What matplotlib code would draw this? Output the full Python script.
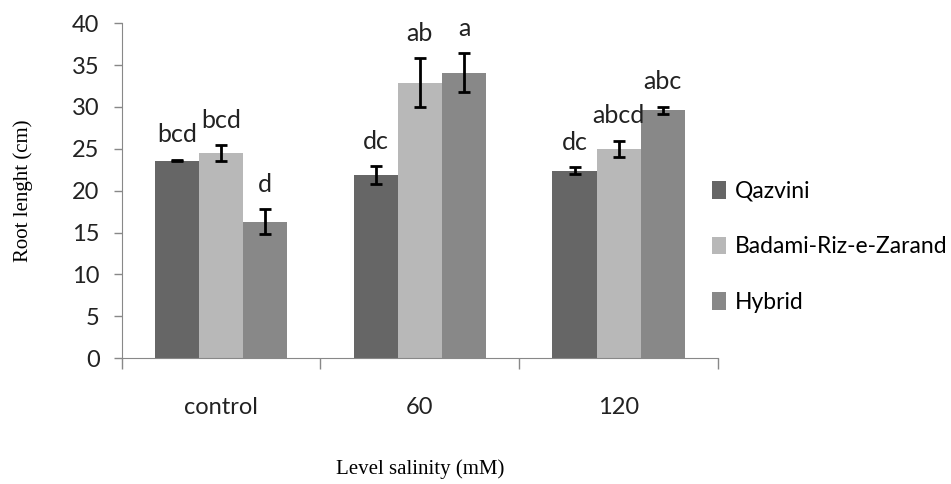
import numpy as np
import matplotlib.pyplot as plt

# data
levels = ['control', '60', '120']
cultivars = ['Qazvini', 'Badami-Riz-e-Zarand', 'Hybrid']
qazvini = [23.6, 21.9, 22.4]
badami = [24.5, 32.9, 25.0]
hybrid = [16.3, 34.1, 29.6]
qazvini_err = [0.1, 1.05, 0.4]
badami_err = [0.9, 2.95, 0.95]
hybrid_err = [1.5, 2.3, 0.45]
qazvini_lab = ['bcd', 'dc', 'dc']
badami_lab = ['bcd', 'ab', 'abcd']
hybrid_lab = ['d', 'a', 'abc']

colors = ['#666666', '#b8b8b8', '#888888']
sans = ['Lato', 'DejaVu Sans']
serif = ['Liberation Serif', 'DejaVu Serif']

fig = plt.figure(figsize=(9.51, 4.84), dpi=100)
ax = fig.add_axes([0.128, 0.260, 0.627, 0.692])

x = np.arange(len(levels))
w = 0.222
series = [(qazvini, qazvini_err, qazvini_lab),
          (badami, badami_err, badami_lab),
          (hybrid, hybrid_err, hybrid_lab)]
for i, (vals, errs, labs) in enumerate(series):
    pos = x + (i - 1) * w
    ax.bar(pos, vals, w, color=colors[i], label=cultivars[i])
    ax.errorbar(pos, vals, yerr=errs, fmt='none', ecolor='black',
                elinewidth=2, capsize=4, capthick=2)
    for p, v, e, t in zip(pos, vals, errs, labs):
        ax.text(p, v + e + 1.6, t, ha='center', va='bottom',
                fontsize=18, family=sans, color='#222222')

ax.set_xlim(-0.5, 2.5)
ax.set_ylim(0, 40)
ax.set_yticks(np.arange(0, 41, 5))
ax.set_xticks(x)
ax.set_xticklabels(levels)
ax.set_xticks([-0.5, 0.5, 1.5, 2.5], minor=True)
ax.tick_params(axis='x', which='major', length=0, pad=28)
ax.tick_params(axis='x', which='minor', length=8, color='#888888', width=1)
ax.tick_params(axis='y', length=6, color='#888888', width=1, pad=10)
for lab in ax.get_xticklabels() + ax.get_yticklabels():
    lab.set_family(sans)
    lab.set_fontsize(17)
    lab.set_color('#222222')

for s in ['top', 'right']:
    ax.spines[s].set_visible(False)
for s in ['left', 'bottom']:
    ax.spines[s].set_color('#888888')

ax.set_ylabel('Root lenght (cm)', family=serif, fontsize=15, labelpad=28)
ax.set_xlabel('Level salinity (mM)', family=serif, fontsize=15, labelpad=30)

leg = ax.legend(loc='center left', bbox_to_anchor=(0.749, 0.49),
                bbox_transform=fig.transFigure, frameon=False,
                borderpad=0, borderaxespad=0,
                handlelength=0.6, handleheight=0.8, handletextpad=0.4,
                labelspacing=1.5, prop={'family': sans, 'size': 16.5})

fig.savefig('out.png', dpi=100)
